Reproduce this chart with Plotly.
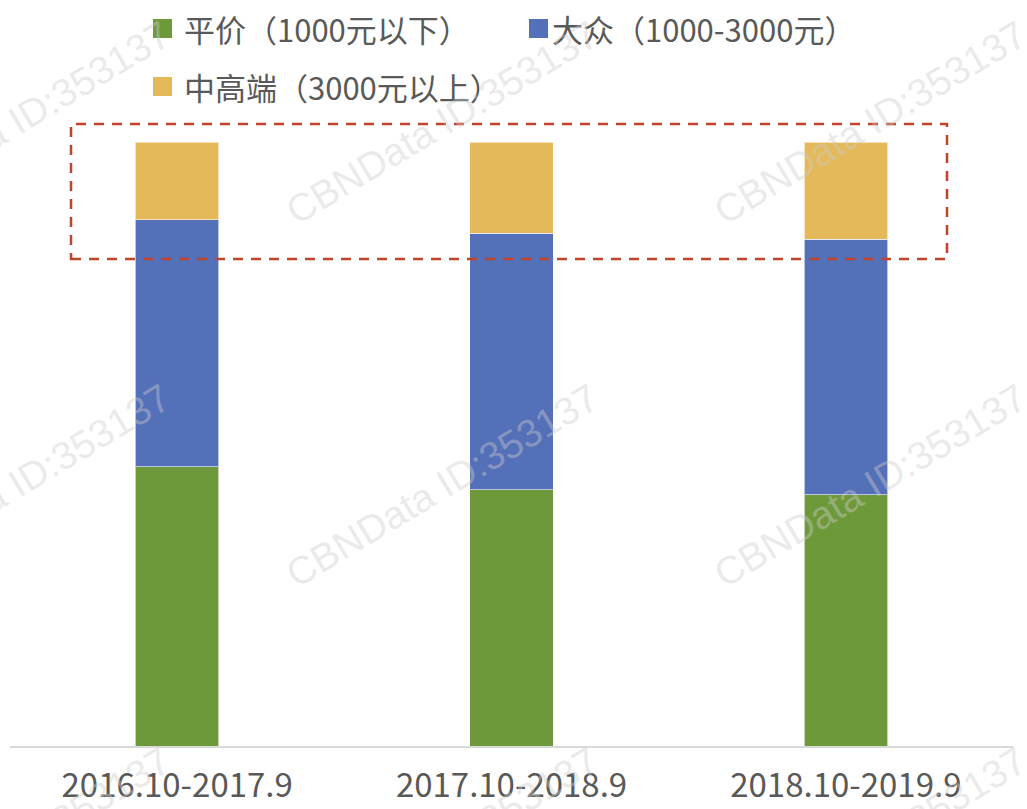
import plotly.graph_objects as go

categories = ["2016.10-2017.9", "2017.10-2018.9", "2018.10-2019.9"]
series_names = ["平价（1000元以下）", "大众（1000-3000元）", "中高端（3000元以上）"]
pingjia = [46.2, 42.4, 41.6]
dazhong = [40.9, 42.5, 42.3]
zhonggaoduan = [12.9, 15.1, 16.1]
series_values = [pingjia, dazhong, zhonggaoduan]
colors = ["#6E993B", "#5470B8", "#E4B95A"]
watermark = "CBNData ID:353137"

W, H = 1027, 809
L, R, T, B = 10, 14, 142, 63
PW = W - L - R
PH = H - T - B


def px(x):
    return (x - L) / PW


def py(y):
    return (H - B - y) / PH


FONT = "Noto Sans CJK SC, Microsoft YaHei, sans-serif"
TXT = "#595959"

fig = go.Figure()
for name, vals, col in zip(series_names, series_values, colors):
    fig.add_trace(go.Bar(
        x=categories, y=vals, name=name,
        marker=dict(color=col, line=dict(color="rgba(255,255,255,0.6)", width=1)),
        showlegend=False,
    ))

annotations = []
shapes = []

# manual legend
legend_pos = [(153, 19, 182), (529, 19, 550), (153, 77, 182)]
for (sx, sy, tx), name, col in zip(legend_pos, series_names, colors):
    shapes.append(dict(type="rect", xref="paper", yref="paper",
                       x0=px(sx), x1=px(sx + 19), y0=py(sy), y1=py(sy + 19),
                       fillcolor=col, line=dict(width=0)))
    annotations.append(dict(text=name, xref="paper", yref="paper",
                            x=px(tx), y=py(sy + 9.5), xanchor="left", yanchor="middle",
                            showarrow=False, font=dict(family=FONT, size=31, color=TXT)))

# dashed highlight box
shapes.append(dict(type="rect", xref="paper", yref="paper",
                   x0=px(71), x1=px(947), y0=py(259), y1=py(124),
                   line=dict(color="#C0432A", width=2.5, dash="10px,8px"),
                   fillcolor="rgba(0,0,0,0)"))

# watermarks
for cy in [122, 485, 848]:
    for cx in [14, 442, 870]:
        annotations.append(dict(text=watermark, xref="paper", yref="paper",
                                x=px(cx), y=py(cy), xanchor="center", yanchor="middle",
                                textangle=-31, showarrow=False,
                                font=dict(family="Liberation Sans, Arial", size=39,
                                          color="rgba(205,205,205,0.42)")))

fig.update_layout(
    width=W, height=H,
    margin=dict(l=L, r=R, t=T, b=B),
    barmode="stack", bargap=0.75,
    plot_bgcolor="white", paper_bgcolor="white",
    xaxis=dict(showline=True, linecolor="#D9D9D9", linewidth=1.5, showgrid=False,
               ticks="", tickfont=dict(family=FONT, size=33, color=TXT),
               ticklabelstandoff=10, automargin=False, range=[-0.5, 2.5]),
    yaxis=dict(visible=False, range=[0, 100], showgrid=False, automargin=False),
    shapes=shapes,
    annotations=annotations,
)

fig.write_html("out.html")
